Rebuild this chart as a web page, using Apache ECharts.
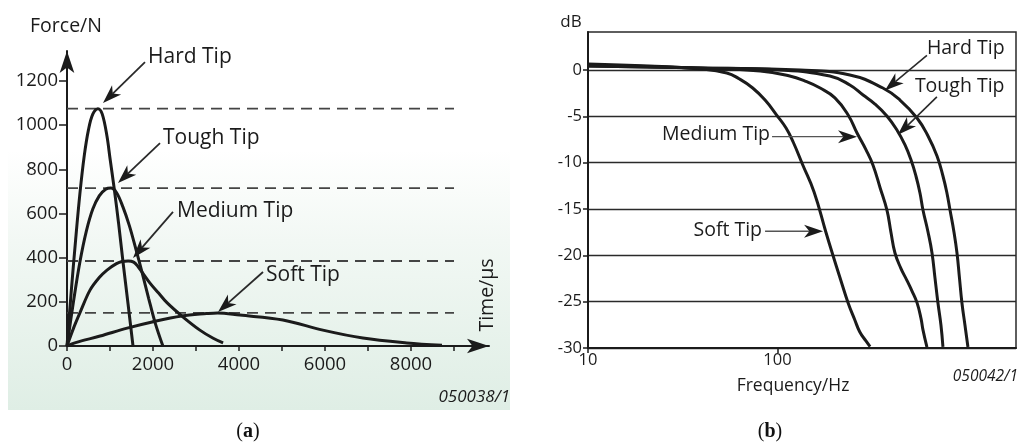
<!DOCTYPE html>
<html>
<head>
<meta charset="utf-8">
<script src="https://cdn.jsdelivr.net/npm/echarts@6/dist/echarts.min.js"></script>
<style>
  html, body { margin: 0; padding: 0; background: #ffffff; }
  #chart { width: 1018px; height: 444px; }
</style>
</head>
<body>
<div id="chart"></div>
<script>
// ---------- (a) impact force pulses: time in μs, force in N ----------
const hardTime    = [0, 100, 200, 300, 400, 500, 600, 720, 820, 930, 1000, 1100, 1200, 1300, 1420, 1535];
const hardForce   = [0, 250, 480, 690, 860, 980, 1050, 1075, 1050, 950, 850, 710, 555, 385, 190, 0];
const toughTime   = [0, 150, 300, 450, 600, 750, 900, 1020, 1150, 1300, 1450, 1600, 1750, 1900, 2050, 2230];
const toughForce  = [0, 200, 380, 520, 620, 680, 710, 715, 695, 630, 545, 440, 330, 215, 105, 0];
const mediumTime  = [0, 150, 300, 535, 750, 930, 1150, 1280, 1420, 1550, 1650, 1930, 2130, 2330, 2700, 3090, 3400, 3630];
const mediumForce = [0, 80, 150, 253, 310, 344, 373, 383, 385, 380, 360, 285, 240, 195, 131, 72, 35, 14];
const softTime    = [0, 200, 770, 1400, 1980, 2670, 3250, 3500, 4020, 5020, 5950, 6880, 7900, 8720];
const softForce   = [0, 15, 45, 81, 109, 136, 147, 150, 140, 118, 72, 36, 14, 3];
// peak force of each tip (dashed reference lines)
const peakForce   = [1075, 715, 385, 150];
const forceTicks  = [0, 200, 400, 600, 800, 1000, 1200];
const timeTicks   = [0, 1000, 2000, 3000, 4000, 5000, 6000, 7000, 8000, 9000];
const timeLabels  = [0, 2000, 4000, 6000, 8000];

// ---------- (b) frequency response: frequency in Hz, level in dB ----------
const softFreq    = [10, 21, 39, 54, 63, 74, 86, 99, 111, 121, 136, 156, 180, 196, 214, 236, 256, 272, 293, 308];
const softDb      = [0.65, 0.43, 0.11, -0.32, -0.97, -1.94, -3.24, -4.86, -6.26, -7.77, -10.25, -13.16, -17.48, -19.96, -22.44, -25.14, -26.98, -28.27, -29.24, -29.85];
const mediumFreq  = [10, 39, 81, 116, 140, 168, 201, 236, 263, 293, 319, 348, 378, 397, 417, 448, 482, 513, 545, 572, 586, 615];
const mediumDb    = [0.5, 0.2, -0.1, -0.65, -1.2, -1.95, -3.0, -4.85, -6.8, -8.6, -10.25, -12.7, -15.1, -17.5, -19.75, -21.4, -22.7, -23.85, -25.1, -26.8, -28.05, -29.9];
const toughFreq   = [10, 39, 103, 189, 241, 283, 327, 378, 427, 471, 507, 538, 565, 586, 623, 654, 678, 703, 729, 747];
const toughDb     = [0.43, 0.22, 0, -0.65, -1.62, -2.7, -3.67, -4.96, -6.47, -8.09, -9.71, -11.44, -13.27, -15.11, -17.48, -19.75, -22.44, -25.14, -27.52, -29.89];
const hardFreq    = [10, 39, 132, 241, 360, 443, 545, 623, 695, 747, 784, 814, 854, 886, 913, 941, 976, 1012];
const hardDb      = [0.43, 0.22, 0, -0.54, -1.94, -3.24, -5.18, -7.12, -9.28, -11.44, -13.27, -15.11, -17.48, -19.75, -22.44, -25.14, -27.52, -29.89];
const dbTicks     = [-30, -25, -20, -15, -10, -5, 0];
const freqTicks   = [10, 100, 1000];

const FONT = "'Open Sans', 'Noto Sans', sans-serif";
const INK = '#1b1b1b';
const pairs = (xs, ys) => xs.map((x, i) => [x, ys[i]]);
const plain = v => String(v);

const chart = echarts.init(document.getElementById('chart'), null, { renderer: 'canvas' });

const curve = (name, data, xi) => ({
  name, type: 'line', xAxisIndex: xi, yAxisIndex: xi, data,
  smooth: xi === 0 ? 0.35 : 0.45, symbol: 'none', z: 4,
  lineStyle: { color: INK, width: 3 }
});

const peakLines = peakForce.map((p, i) => ({
  name: 'peak' + i, type: 'line', xAxisIndex: 0, yAxisIndex: 0,
  data: [[0, p], [9000, p]], symbol: 'none', z: 3,
  lineStyle: { color: '#444', width: 1.8, type: [11, 7] }
}));

chart.setOption({
  animation: false,
  textStyle: { fontFamily: FONT },
  grid: [
    { left: 67, top: 51, width: 422, height: 295 },
    { left: 588, top: 32, width: 428, height: 316, show: true, borderColor: '#2a2a2a', borderWidth: 1.5, backgroundColor: 'transparent' }
  ],
  xAxis: [
    {
      gridIndex: 0, type: 'value', min: 0, max: 9814,
      axisLine: { show: true, onZero: false, symbol: ['none', 'arrow'], symbolSize: [11, 22], lineStyle: { color: INK, width: 2 } },
      axisTick: { show: true, length: 5, customValues: timeTicks, lineStyle: { color: INK, width: 1.5 } },
      axisLabel: { customValues: timeLabels, formatter: plain, fontSize: 18.5, color: INK, margin: 9, fontFamily: FONT },
      splitLine: { show: false }
    },
    {
      gridIndex: 1, type: 'log', logBase: 10, min: 10, max: 1815,
      axisLine: { show: true, onZero: false, lineStyle: { color: INK, width: 2 } },
      axisTick: { show: true, length: 5, customValues: freqTicks, lineStyle: { color: INK, width: 1.5 } },
      axisLabel: { customValues: freqTicks, formatter: plain, showMaxLabel: false, fontSize: 16.5, color: INK, margin: 4, fontFamily: FONT },
      splitLine: { show: false }
    }
  ],
  yAxis: [
    {
      gridIndex: 0, type: 'value', min: 0, max: 1336,
      axisLine: { show: true, onZero: false, symbol: ['none', 'arrow'], symbolSize: [11, 22], lineStyle: { color: INK, width: 2 } },
      axisTick: { show: true, length: 8, customValues: forceTicks, lineStyle: { color: INK, width: 1.5 } },
      axisLabel: { customValues: forceTicks, formatter: plain, fontSize: 18.5, color: INK, margin: 9, fontFamily: FONT },
      splitLine: { show: false }
    },
    {
      gridIndex: 1, type: 'value', min: -30, max: 4.1, interval: 5,
      axisLine: { show: true, onZero: false, lineStyle: { color: INK, width: 2 } },
      axisTick: { show: true, length: 5, customValues: dbTicks, lineStyle: { color: INK, width: 1.5 } },
      axisLabel: { customValues: dbTicks, formatter: plain, fontSize: 16.5, color: INK, margin: 6, fontFamily: FONT },
      splitLine: { show: true, lineStyle: { color: '#2a2a2a', width: 1.4 } }
    }
  ],
  series: [
    ...peakLines,
    curve('Hard Tip', pairs(hardTime, hardForce), 0),
    curve('Tough Tip', pairs(toughTime, toughForce), 0),
    curve('Medium Tip', pairs(mediumTime, mediumForce), 0),
    curve('Soft Tip', pairs(softTime, softForce), 0),
    curve('Soft Tip', pairs(softFreq, softDb), 1),
    curve('Medium Tip', pairs(mediumFreq, mediumDb), 1),
    curve('Tough Tip', pairs(toughFreq, toughDb), 1),
    curve('Hard Tip', pairs(hardFreq, hardDb), 1)
  ]
});

// ---------- annotations: arrow tip anchored beside the curve, tail/text offset in px ----------
const notes = [
  { grid: 0, text: 'Hard Tip',   at: [837, 1100],  tail: [42, -41], label: [45, -46], align: 'left',  size: 21,   line: '#2a2a2a', lw: 1.8 },
  { grid: 0, text: 'Tough Tip',  at: [1186, 738],  tail: [42, -40], label: [45, -45], align: 'left',  size: 21,   line: '#2a2a2a', lw: 1.8 },
  { grid: 0, text: 'Medium Tip', at: [1535, 399],  tail: [40, -46], label: [44, -47], align: 'left',  size: 21,   line: '#2a2a2a', lw: 1.8 },
  { grid: 0, text: 'Soft Tip',   at: [3512, 154],  tail: [45, -40], label: [48, -37], align: 'left',  size: 21,   line: '#2a2a2a', lw: 1.8 },
  { grid: 1, text: 'Hard Tip',   at: [369, -2.2],  tail: [42, -35], label: [42, -42], align: 'left',  size: 19.5, line: '#2a2a2a', lw: 1.6 },
  { grid: 1, text: 'Tough Tip',  at: [432, -7.0],  tail: [39, -38], label: [17, -48], align: 'left',  size: 19.5, line: '#2a2a2a', lw: 1.6 },
  { grid: 1, text: 'Medium Tip', at: [263, -7.2],  tail: [-85, 0],  label: [-87, -2], align: 'right', size: 19.5, line: '#555', lw: 1.3 },
  { grid: 1, text: 'Soft Tip',   at: [174, -17.4], tail: [-58, 0],  label: [-61, -1], align: 'right', size: 19.5, line: '#555', lw: 1.3 }
];

function arrow(tip, tail, headLen, headW, color, width) {
  const dx = tip[0] - tail[0], dy = tip[1] - tail[1];
  const len = Math.hypot(dx, dy);
  const ux = dx / len, uy = dy / len, nx = -uy, ny = ux;
  const base = [tip[0] - ux * headLen, tip[1] - uy * headLen];
  const notch = [tip[0] - ux * headLen * 0.72, tip[1] - uy * headLen * 0.72];
  return [
    { type: 'line', z: 6, shape: { x1: tail[0], y1: tail[1], x2: notch[0], y2: notch[1] }, style: { stroke: color, lineWidth: width } },
    { type: 'polygon', z: 6, shape: { points: [tip, [base[0] + nx * headW / 2, base[1] + ny * headW / 2], notch, [base[0] - nx * headW / 2, base[1] - ny * headW / 2]] }, style: { fill: INK } }
  ];
}

function build() {
  const g = [];
  // soft green backdrop under the force plot
  g.push({
    type: 'rect', z: -1, silent: true,
    shape: { x: 8, y: 150, width: 502, height: 260 },
    style: { fill: new echarts.graphic.LinearGradient(0, 0, 0, 1, [
      { offset: 0, color: 'rgba(255,255,255,1)' },
      { offset: 0.35, color: '#f2f8f4' },
      { offset: 1, color: '#dfeee5' }
    ]) }
  });

  notes.forEach(n => {
    const tip = chart.convertToPixel({ gridIndex: n.grid }, n.at);
    const tail = [tip[0] + n.tail[0], tip[1] + n.tail[1]];
    g.push(...arrow(tip, tail, 19, 13, n.line, n.lw));
    g.push({
      type: 'text', z: 6, x: tip[0] + n.label[0], y: tip[1] + n.label[1],
      style: { text: n.text, font: `${n.size}px ${FONT}`, fill: INK, align: n.align, verticalAlign: 'middle' }
    });
  });

  const txt = (x, y, text, size, extra) => ({
    type: 'text', z: 6, x, y,
    style: Object.assign({ text, font: `${size}px ${FONT}`, fill: INK, align: 'center', verticalAlign: 'middle' }, extra || {})
  });

  g.push(txt(66, 26, 'Force/N', 19.5));
  g.push(Object.assign(txt(487, 295, 'Time/μs', 19.5), { rotation: Math.PI / 2 }));
  g.push(txt(510, 397, '050038/1', 17, { align: 'right', font: `italic 17px ${FONT}` }));
  g.push(txt(571, 22, 'dB', 17));
  g.push(txt(793, 386, 'Frequency/Hz', 17.5));
  g.push(txt(1018, 377, '050042/1', 15.5, { align: 'right', font: `italic 15.5px ${FONT}` }));

  const panelTag = (x, letter) => ({
    type: 'text', z: 6, x, y: 432,
    style: {
      text: '(' + '{b|' + letter + '})', align: 'center', verticalAlign: 'middle',
      font: "20px 'Liberation Serif', 'DejaVu Serif', serif", fill: '#111',
      rich: { b: { fontWeight: 'bold', fontSize: 20, fontFamily: "'Liberation Serif', 'DejaVu Serif', serif" } }
    }
  });
  g.push(panelTag(248, 'a'));
  g.push(panelTag(770, 'b'));

  chart.setOption({ graphic: g });
}
build();
</script>
</body>
</html>
